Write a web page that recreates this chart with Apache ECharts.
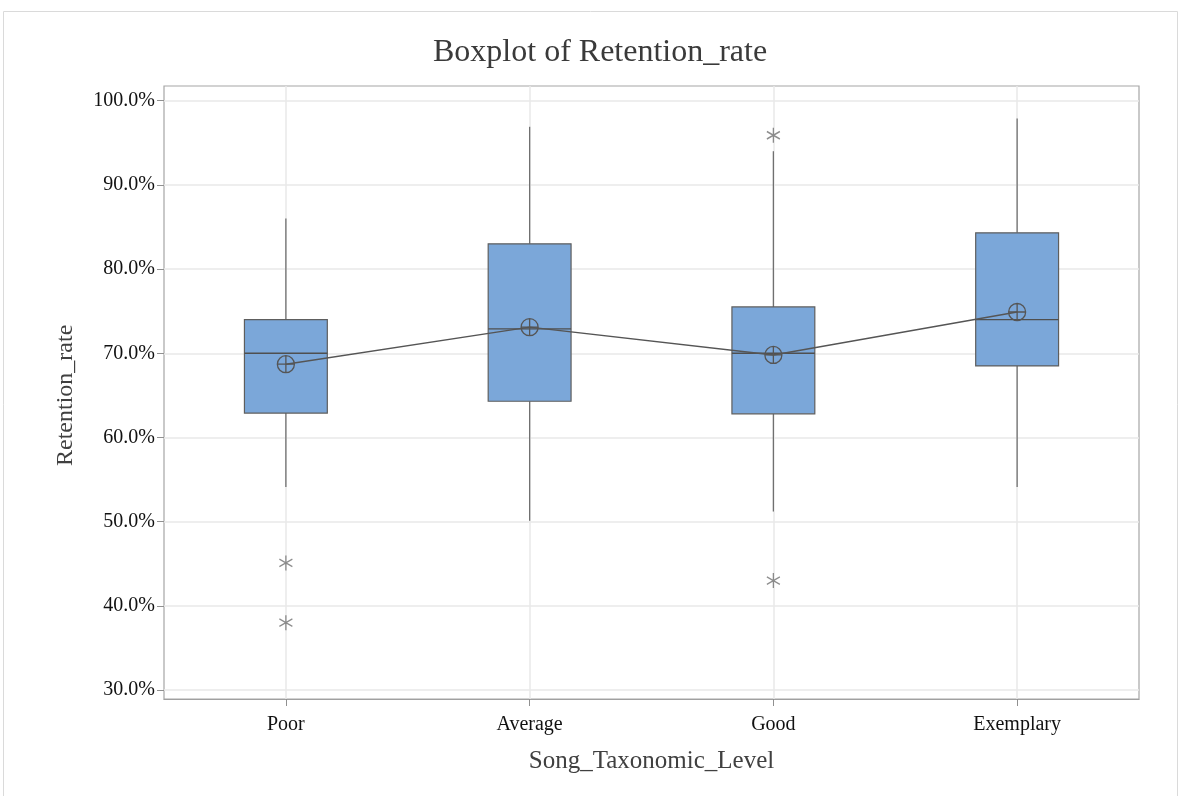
<!DOCTYPE html>
<html>
<head>
<meta charset="utf-8">
<title>Boxplot of Retention_rate</title>
<script src="https://cdn.jsdelivr.net/npm/echarts@6/dist/echarts.min.js"></script>
<style>
  html, body { margin: 0; padding: 0; background: #fff; }
  #chart { width: 1181px; height: 796px; }
</style>
</head>
<body>
<div id="chart"></div>
<script>
// values (percent)
const categories = ['Poor', 'Average', 'Good', 'Exemplary']
const whiskerLow = [54.1, 50.1, 51.2, 54.1]
const q1 = [62.9, 64.3, 62.8, 68.5]
const median = [70.0, 72.9, 70.0, 74.0]
const q3 = [74.0, 83.0, 75.5, 84.3]
const whiskerHigh = [86.0, 96.9, 94.0, 97.9]
const means = [68.7, 73.1, 69.8, 74.9]
const outlierCats = ['Poor', 'Poor', 'Good', 'Good']
const outlierVals = [45.1, 38.0, 95.9, 43.0]
const yTicks = [30, 40, 50, 60, 70, 80, 90, 100]

const serif = "'Liberation Serif', 'Times New Roman', serif"
const meanSymbol = 'path://M-8,0A8,8 0 1 1 8,0A8,8 0 1 1 -8,0ZM-8,0L8,0M0,-8L0,8'
const starSymbol = 'path://M0,-7L0,7M-6.06,-3.5L6.06,3.5M-6.06,3.5L6.06,-3.5'

const chart = echarts.init(document.getElementById('chart'))

const boxData = categories.map((c, i) => [i, whiskerLow[i], q1[i], median[i], q3[i], whiskerHigh[i]])

function renderBox(params, api) {
  const i = api.value(0)
  const low = api.coord([i, api.value(1)])
  const lo = api.coord([i, api.value(2)])
  const med = api.coord([i, api.value(3)])
  const hi = api.coord([i, api.value(4)])
  const high = api.coord([i, api.value(5)])
  const w = api.size([1, 0])[0] * 0.34
  const whisker = { stroke: '#707070', lineWidth: 1.3 }
  return {
    type: 'group',
    children: [
      { type: 'line', shape: { x1: low[0], y1: low[1], x2: lo[0], y2: lo[1] }, style: whisker },
      { type: 'line', shape: { x1: hi[0], y1: hi[1], x2: high[0], y2: high[1] }, style: whisker },
      {
        type: 'rect',
        shape: { x: hi[0] - w / 2, y: hi[1], width: w, height: lo[1] - hi[1] },
        style: { fill: '#7ba7d9', stroke: '#5e5e5e', lineWidth: 1.2 }
      },
      {
        type: 'line',
        shape: { x1: med[0] - w / 2, y1: med[1], x2: med[0] + w / 2, y2: med[1] },
        style: { stroke: '#4f4f4f', lineWidth: 1.3 }
      }
    ]
  }
}

chart.setOption({
  backgroundColor: '#fff',
  animation: false,
  title: {
    text: 'Boxplot of Retention_rate',
    left: 428,
    top: 32,
    textStyle: { fontFamily: serif, fontSize: 32, fontWeight: 'normal', color: '#3a3a3a' }
  },
  graphic: [{
    type: 'rect',
    shape: { x: 3.5, y: 11.5, width: 1174, height: 800 },
    style: { fill: 'none', stroke: '#dadada', lineWidth: 1 },
    silent: true
  }],
  grid: [
    // frame grid: border, category axis, vertical grid lines
    { left: 164, width: 975, top: 86, height: 613, show: true, borderColor: '#a6a6a6', borderWidth: 1.2, backgroundColor: 'transparent' },
    // data grid: 30% .. 100%
    { left: 164, width: 975, top: 100.7, height: 589.3 }
  ],
  xAxis: [{
    gridIndex: 0,
    type: 'category',
    data: categories,
    name: 'Song_Taxonomic_Level',
    nameLocation: 'middle',
    nameGap: 50,
    nameTextStyle: { fontFamily: serif, fontSize: 25, color: '#404040' },
    axisLine: { show: true, lineStyle: { color: '#a0a0a0', width: 1.2 } },
    axisTick: { show: true, alignWithLabel: true, length: 7, lineStyle: { color: '#909090' } },
    axisLabel: { fontFamily: serif, fontSize: 20, color: '#111', margin: 16 },
    splitLine: { show: false }
  }, {
    gridIndex: 1,
    type: 'category',
    data: categories,
    show: false
  }],
  yAxis: [{
    gridIndex: 0,
    type: 'value',
    show: false,
    splitLine: { show: false }
  }, {
    gridIndex: 1,
    type: 'value',
    min: yTicks[0],
    max: yTicks[yTicks.length - 1],
    interval: 10,
    name: 'Retention_rate',
    nameLocation: 'middle',
    nameGap: 86,
    nameTextStyle: { fontFamily: serif, fontSize: 24, color: '#404040' },
    axisLine: { show: false },
    axisTick: { show: true, length: 7, lineStyle: { color: '#909090' } },
    axisLabel: {
      fontFamily: serif, fontSize: 20, color: '#111', margin: 9,
      formatter: v => v.toFixed(1) + '%'
    },
    splitLine: { show: true, lineStyle: { color: '#e9e9e9', width: 1.5 } }
  }],
  series: [{
    // vertical grid lines through each category, full frame height
    type: 'line',
    xAxisIndex: 0,
    yAxisIndex: 0,
    data: [],
    silent: true,
    z: 0,
    markLine: {
      silent: true,
      z: 0,
      symbol: 'none',
      label: { show: false },
      lineStyle: { color: '#e9e9e9', width: 1.5, type: 'solid' },
      data: categories.map(c => ({ xAxis: c }))
    }
  }, {
    type: 'custom',
    xAxisIndex: 1,
    yAxisIndex: 1,
    renderItem: renderBox,
    encode: { x: 0, y: [1, 2, 3, 4, 5] },
    data: boxData,
    z: 6
  }, {
    type: 'line',
    xAxisIndex: 1,
    yAxisIndex: 1,
    data: means,
    symbol: meanSymbol,
    symbolSize: 17,
    lineStyle: { color: '#555', width: 1.4 },
    itemStyle: { color: 'transparent', borderColor: '#555', borderWidth: 1.3 },
    z: 8
  }, {
    type: 'scatter',
    xAxisIndex: 1,
    yAxisIndex: 1,
    data: outlierCats.map((c, i) => [c, outlierVals[i]]),
    symbol: starSymbol,
    symbolSize: [13, 15],
    itemStyle: { color: 'transparent', borderColor: '#707070', borderWidth: 1.4 },
    z: 8
  }]
})
</script>
</body>
</html>
